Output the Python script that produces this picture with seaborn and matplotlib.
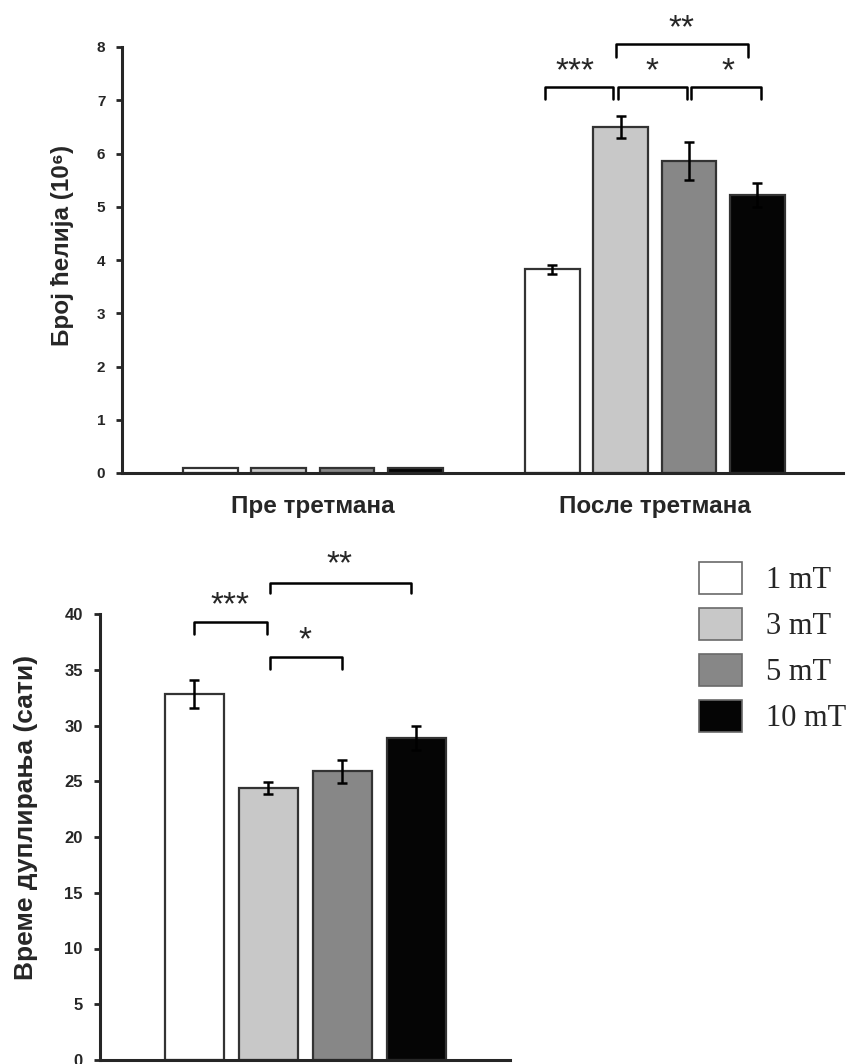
import numpy as np
import pandas as pd
import matplotlib
matplotlib.use("Agg")
import matplotlib.pyplot as plt
from matplotlib.container import BarContainer
import seaborn as sns

# ---------------- data ----------------
conditions = ["Пре третмана", "После третмана"]
fields = ["1 mT", "3 mT", "5 mT", "10 mT"]
count_pre = [0.09, 0.09, 0.09, 0.09]
count_post = [3.83, 6.50, 5.86, 5.22]
count_pre_err = [0.0, 0.0, 0.0, 0.0]
count_post_err = [0.085, 0.20, 0.35, 0.225]
doubling_time = [32.8, 24.37, 25.9, 28.9]
doubling_err = [1.24, 0.53, 1.05, 1.1]
bar_colors = ["#ffffff", "#c8c8c8", "#878787", "#050505"]
count_yticks = [0, 1, 2, 3, 4, 5, 6, 7, 8]
doubling_yticks = [0, 5, 10, 15, 20, 25, 30, 35, 40]

# significance brackets: (x_left, x_right, y_top, y_leg, label, text_x, text_y)
count_sig = [
    (0.68, 0.877, 7.25, 7.02, "***", 0.766, 7.63),
    (0.892, 1.094, 7.25, 7.02, "*", 0.991, 7.63),
    (1.105, 1.31, 7.25, 7.02, "*", 1.213, 7.63),
    (0.886, 1.272, 8.06, 7.81, "**", 1.079, 8.45),
]
doubling_sig = [
    (0.0, 0.976, 39.25, 38.2, "***", 0.48, 41.2),
    (1.02, 2.0, 36.1, 35.1, "*", 1.49, 38.1),
    (1.02, 2.92, 42.8, 41.9, "**", 1.96, 44.9),
]

# ---------------- style ----------------
sns.set_style("ticks")
plt.rcParams["font.family"] = ["Liberation Sans", "DejaVu Sans"]
plt.rcParams["font.weight"] = "bold"
plt.rcParams["axes.linewidth"] = 2.2

palette = dict(zip(fields, bar_colors))
EDGE = "#333333"
STAR_FS = 24

fig = plt.figure(figsize=(8.55, 10.64), dpi=100)
ax1 = fig.add_axes([122 / 855, 1 - 473 / 1064, (843 - 122) / 855, (473 - 47) / 1064])
ax2 = fig.add_axes([100 / 855, 1 - 1060 / 1064, (510 - 100) / 855, (1060 - 614) / 1064])

# ---------------- top chart: cell count ----------------
df_count = pd.DataFrame({
    "condition": np.repeat(conditions, len(fields)),
    "field": fields * len(conditions),
    "count": count_pre + count_post,
    "err": count_pre_err + count_post_err,
})
sns.barplot(data=df_count, x="condition", y="count", hue="field", order=conditions,
            hue_order=fields, palette=palette, errorbar=None, gap=0.2, width=0.8,
            edgecolor=EDGE, linewidth=1.6, legend=False, ax=ax1)

bars1 = [c for c in ax1.containers if isinstance(c, BarContainer)]
for hi, cont in enumerate(bars1):
    for p in cont.patches:
        xc = p.get_x() + p.get_width() / 2
        ci = int(round(xc))
        e = df_count[(df_count.condition == conditions[ci]) & (df_count.field == fields[hi])]["err"].iloc[0]
        if e > 0:
            ax1.errorbar(xc, p.get_height(), yerr=e, fmt="none", ecolor="black",
                         elinewidth=1.8, capsize=3.6, capthick=1.8, zorder=5)

ax1.set_ylim(0, 8)
ax1.set_xlim(-0.558, 1.55)
ax1.set_yticks(count_yticks)
ax1.set_ylabel("Број ћелија (10⁶)", fontsize=17.5, fontweight="bold")
ax1.yaxis.set_label_coords(-0.0666, 0.535)
ax1.set_xlabel("")
ax1.tick_params(axis="y", direction="out", length=4, width=2, labelsize=11, pad=8)
ax1.tick_params(axis="x", length=0, labelsize=17.5, pad=15.5)
for lab in ax1.get_xticklabels() + ax1.get_yticklabels():
    lab.set_fontweight("bold")
sns.despine(ax=ax1)

for (x0, x1, yt, yl, lab, tx, ty) in count_sig:
    ax1.plot([x0, x0, x1, x1], [yl, yt, yt, yl], color="black", lw=1.8,
             solid_joinstyle="round", clip_on=False)
    ax1.annotate(lab, xy=(tx, ty), xytext=(0, -0.42 * STAR_FS), textcoords="offset points",
                 ha="center", va="baseline", fontsize=STAR_FS, fontweight="normal",
                 annotation_clip=False)

# ---------------- bottom chart: doubling time ----------------
df_dbl = pd.DataFrame({"field": fields, "time": doubling_time, "err": doubling_err})
sns.barplot(data=df_dbl, x="field", y="time", hue="field", order=fields, hue_order=fields,
            palette=palette, errorbar=None, width=0.8, edgecolor=EDGE, linewidth=1.6,
            legend=True, ax=ax2)
bars2 = [c for c in ax2.containers if isinstance(c, BarContainer)]
for cont in bars2:
    for p in cont.patches:
        xc = p.get_x() + p.get_width() / 2
        i = int(round(xc))
        ax2.errorbar(xc, p.get_height(), yerr=df_dbl["err"].iloc[i], fmt="none",
                     ecolor="black", elinewidth=1.8, capsize=3.6, capthick=1.8, zorder=5)

ax2.set_ylim(0, 40)
ax2.set_xlim(-1.277, 4.264)
ax2.set_yticks(doubling_yticks)
ax2.set_xticks([])
ax2.set_xlabel("")
ax2.set_ylabel("Време дуплирања (сати)", fontsize=19, fontweight="bold")
ax2.yaxis.set_label_coords(-0.15, 0.543)
ax2.tick_params(axis="y", direction="out", length=4, width=2, labelsize=12, pad=8.5)
for lab in ax2.get_yticklabels():
    lab.set_fontweight("bold")
sns.despine(ax=ax2)

for (x0, x1, yt, yl, lab, tx, ty) in doubling_sig:
    ax2.plot([x0, x0, x1, x1], [yl, yt, yt, yl], color="black", lw=1.8,
             solid_joinstyle="round", clip_on=False)
    ax2.annotate(lab, xy=(tx, ty), xytext=(0, -0.42 * STAR_FS), textcoords="offset points",
                 ha="center", va="baseline", fontsize=STAR_FS, fontweight="normal",
                 annotation_clip=False)

sns.move_legend(ax2, "upper left", bbox_to_anchor=(699 / 855, 1 - 562 / 1064),
                bbox_transform=fig.transFigure, frameon=False, title=None,
                prop={"family": ["Liberation Serif", "DejaVu Serif"], "size": 22, "weight": "normal"},
                handlelength=1.4, handleheight=1.22, labelspacing=0.42, handletextpad=0.8,
                borderpad=0, borderaxespad=0)
leg = ax2.get_legend()
for h in leg.legend_handles:
    h.set_edgecolor("#6a6a6a")
    h.set_linewidth(1.2)

fig.savefig("out.png", dpi=100)
